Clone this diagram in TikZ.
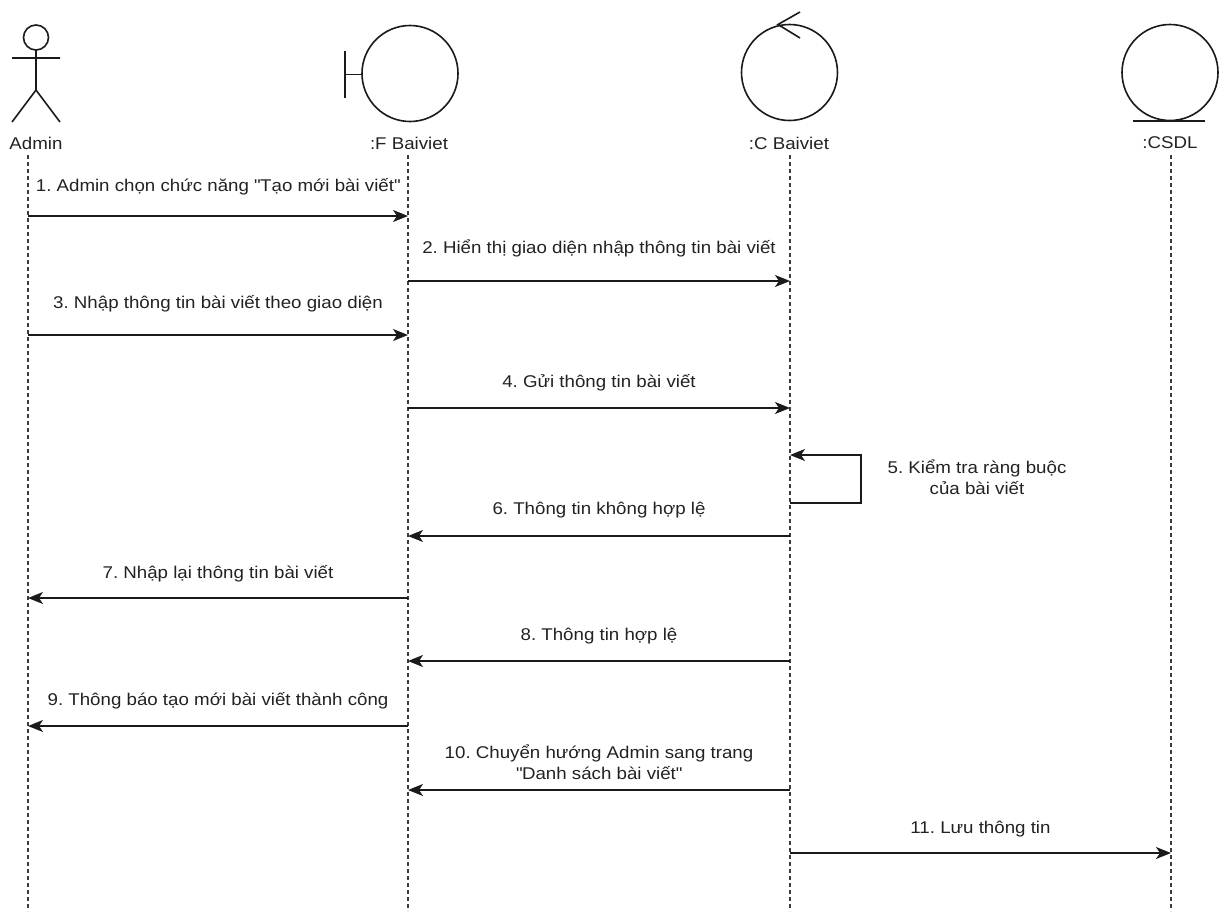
\documentclass[tikz,border=0pt]{standalone}
\usepackage{fontspec}
\setmainfont{Liberation Sans}[FakeStretch=1.1]
\usetikzlibrary{arrows.meta}
\definecolor{seqink}{HTML}{1A1A1A}
\definecolor{seqtext}{HTML}{222222}

\tikzset{
  icon/.style={draw=seqink,line width=1.6pt},
  lifeline/.style={draw=seqink!85,line width=1.1pt,dash pattern=on 4pt off 3pt},
  msg/.style={draw=seqink,line width=1.5pt,-{Stealth[length=15pt,width=12pt,inset=4pt]}},
  msgtext/.style={text=seqtext,font=\fontsize{17}{21}\selectfont,align=center,inner sep=1pt},
  objname/.style={msgtext}
}
\frenchspacing

\begin{document}
\begin{tikzpicture}[x=1pt,y=-1pt]
    \path[use as bounding box,fill=white] (0,0) rectangle (1224,911);

    % Actor and the three analysis objects along the top.
    \draw[icon] (36,37.5) circle (12.5);
    \draw[icon] (12,58) -- (60,58) (36,50) -- (36,90)
      (12,122) -- (36,90) -- (60,122);
    \node[objname] (admin) at (36,143) {Admin};

    \draw[icon] (410,73.5) circle (48);
    \draw[icon] (345,51) -- (345,98) (345,74.5) -- (362,74.5);
    \node[objname] (fbaiviet) at (409,143) {:F Baiviet};

    \draw[icon] (789.5,72.5) circle (48);
    \draw[icon] (800,12) -- (778,24.5) -- (800,38);
    \node[objname] (cbaiviet) at (789,143) {:C Baiviet};

    \draw[icon] (1170,72.5) circle (48);
    \draw[icon] (1133,121) -- (1205,121);
    \node[objname] (csdl) at (1170,143) {:CSDL};

    % Lifelines down to the page edge.
    \foreach \l/\x in {lAdmin/28,lForm/408,lCtrl/790,lDb/1171} {
      \coordinate (\l) at (\x,155);
      \coordinate (\l End) at (\x,911);
      \draw[lifeline] (\l) -- (\l End);
    }

    % Messages: from, to, arrow y, label y, text.
    \foreach \n/\a/\b/\y/\ty/\txt in {
      1/lAdmin/lForm/216/187/{1. Admin chọn chức năng \textquotedbl Tạo mới bài viết\textquotedbl},
      2/lForm/lCtrl/281/248/{2. Hiển thị giao diện nhập thông tin bài viết},
      3/lAdmin/lForm/335/304/{3. Nhập thông tin bài viết theo giao diện},
      4/lForm/lCtrl/408/383/{4. Gửi thông tin bài viết},
      6/lCtrl/lForm/536/510/{6. Thông tin không hợp lệ},
      7/lForm/lAdmin/598/574/{7. Nhập lại thông tin bài viết},
      8/lCtrl/lForm/661/636/{8. Thông tin hợp lệ},
      9/lForm/lAdmin/726/701/{9. Thông báo tạo mới bài viết thành công},
      10/lCtrl/lForm/790/762/{10. Chuyển hướng Admin sang trang\\\textquotedbl Danh sách bài viết\textquotedbl},
      11/lCtrl/lDb/853/829/{11. Lưu thông tin}} {
      \draw[msg] (\a |- 0,\y) -- (\b |- 0,\y);
      \path (\a |- 0,\ty) -- node[msgtext] (t\n) {\txt} (\b |- 0,\ty);
    }

    % Self call on the controller.
    \coordinate (loopA) at (861,503);
    \coordinate (loopB) at (861,455);
    \draw[msg] (lCtrl |- loopA) -- (loopA) -- (loopB) -- (lCtrl |- loopB);
    \node[msgtext] (t5) at (977,477) {5. Kiểm tra ràng buộc\\của bài viết};
  \end{tikzpicture}
\end{document}
